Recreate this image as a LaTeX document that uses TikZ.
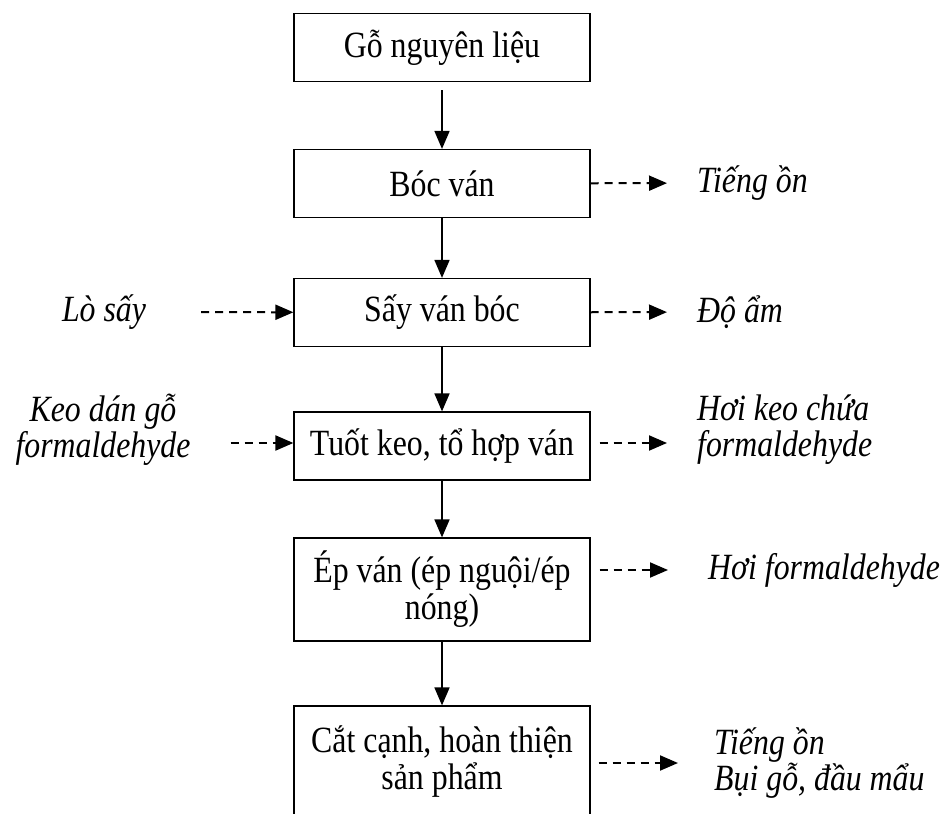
\documentclass[tikz,border=0pt]{standalone}
\usepackage{fontspec}
\setmainfont{Liberation Serif}[FakeStretch=0.86]
\usetikzlibrary{arrows.meta}

\begin{document}
\begin{tikzpicture}[x=1pt,y=-1pt]
\tikzstyle{stage}=[draw, line width=1.2pt, minimum width=296pt, minimum height=68pt, align=center, font=\fontsize{37}{37}\selectfont]
\tikzstyle{note}=[inner sep=0pt, font=\fontsize{37}{36}\selectfont\itshape]
\tikzstyle{flow}=[line width=1.7pt, -{Triangle[length=18pt,width=15pt]}]
\tikzstyle{side}=[flow, line width=2pt, dash pattern=on 8pt off 6pt]

\useasboundingbox (0,0) rectangle (944,813);
\clip (0,0) rectangle (944,813);

% main chain
\draw (442,47.5) node[stage] (goc) {Gỗ nguyên liệu};
\draw (442,183.5) node[stage] (boc) {Bóc ván};
\draw (442,312.5) node[stage] (say) {Sấy ván bóc};
\draw (442,446) node[stage] (tuot) {Tuốt keo, tổ hợp ván};
\draw (442,589.5) node[stage, minimum height=103pt] (ep) {Ép ván (ép nguội/ép\\nóng)};
\draw (442,762) node[stage, minimum height=112pt] (cat) {Cắt cạnh, hoàn thiện\\sản phẩm};

% inputs and outputs
\draw (697,183) node[note, anchor=west] (on) {Tiếng ồn};
\draw (104,312) node[note] (lo) {Lò sấy};
\draw (103,430) node[note, align=center] (keo) {Keo dán gỗ\\formaldehyde};
\draw (697,312) node[note, anchor=west] (doam) {Độ ẩm};
\draw (697,430) node[note, anchor=west, align=left] (hoikeo) {Hơi keo chứa\\formaldehyde};
\draw (708,570) node[note, anchor=west] (hoi) {Hơi formaldehyde};
\draw (714,763) node[note, anchor=west, align=left] (bui) {Tiếng ồn\\Bụi gỗ, đầu mẩu};

\draw[flow, shorten <=8pt] (goc) -- (boc);
\draw[flow] (boc) -- (say);
\draw[flow] (say) -- (tuot);
\draw[flow] (tuot) -- (ep);
\draw[flow] (ep) -- (cat);

\draw[side, shorten >=30pt] (boc) -- (on);
\draw[side, shorten <=55pt] (lo) -- (say);
\draw[side, shorten >=30pt] (say) -- (doam);
\draw[side, shorten <=40pt] (keo.east |- 0,443) -- (tuot.west |- 0,443);
\draw[side, shorten <=9pt, shorten >=30pt] (tuot.east |- 0,443) -- (hoikeo.west |- 0,443);
\draw[side, shorten <=9pt, shorten >=40pt] (ep.east |- hoi) -- (hoi);
\draw[side, shorten <=8pt, shorten >=36pt] (cat.east |- bui) -- (bui);
\end{tikzpicture}
\end{document}
